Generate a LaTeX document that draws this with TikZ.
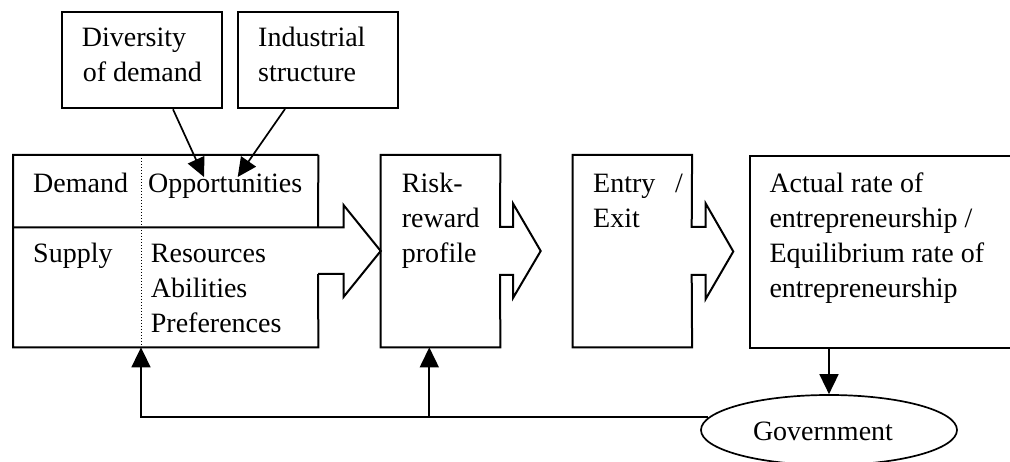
\documentclass[tikz,border=0pt]{standalone}
\usepackage{fontspec}
\setmainfont{Liberation Serif}
\usetikzlibrary{arrows.meta,shapes.geometric}

\begin{document}
\begin{tikzpicture}[x=1pt,y=-1pt,
  blk/.style={rectangle,inner sep=0pt,anchor=north west},
  outline/.style={line width=2pt,line join=miter,miter limit=10},
  conn/.style={line width=1.7pt},
  head/.style={-{Triangle[length=20pt,width=19pt]}},
  lbl/.style={anchor=base west,inner sep=0pt,font=\fontsize{28}{35}\selectfont}]

% canvas
\clip (0,0) rectangle (1010,462);
\fill[white] (0,0) rectangle (1010,462);

% boxes
\node[blk,minimum width=160.3pt,minimum height=96.3pt,draw,line width=2pt] (div) at (60.7,11) {};
\node[blk,minimum width=160pt,minimum height=96pt,draw,line width=2pt] (ind) at (236.7,11) {};
\node[blk,minimum width=305pt,minimum height=192pt] (sd) at (13,155) {};
\node[blk,minimum width=119.3pt,minimum height=192pt] (rr) at (380.7,155) {};
\node[blk,minimum width=119pt,minimum height=192pt] (ee) at (572.7,155) {};
\node[blk,minimum width=266pt,minimum height=192pt,draw,line width=2pt] (ar) at (749,155) {};
\node[ellipse,draw,line width=1.7pt,minimum width=256pt,minimum height=70pt,inner sep=0pt] (gov) at (829,430) {};

% demand/supply box with its block arrow
\draw[outline] (sd.north east) -- (sd.north west) -- (sd.south west) -- (sd.south east) -- (318,274);
\draw[outline] (sd.north east) -- (318,227.5);
\draw[outline] (13,227.5) -- (343.5,227.5) -- (343.5,205) -- (rr.west |- 0,251) -- (343.5,297) -- (343.5,274) -- (318,274);
\draw[line width=1pt,dotted] (141,155) -- (141,347);

% risk-reward box with its block arrow
\draw[outline] (500,227) -- (rr.north east) -- (rr.north west) -- (rr.south west) -- (rr.south east) -- (500,275)
  -- (513,275) -- (513,298) -- (540.7,251) -- (513,203.5) -- (513,227) -- cycle;

% entry/exit box with its block arrow
\draw[outline] (691.7,227) -- (ee.north east) -- (ee.north west) -- (ee.south west) -- (ee.south east) -- (691.7,275)
  -- (705.7,275) -- (705.7,299) -- (733.3,251.5) -- (705.7,203.5) -- (705.7,227) -- cycle;

% labels
\node[lbl] (t1) at (81.7,46.7) {Diversity};
\node[lbl] (t2) at (82.7,81.7) {of demand};
\node[lbl] (t3) at (258,46.7) {Industrial};
\node[lbl] (t4) at (258,81.7) {structure};
\node[lbl] (t5) at (33,193) {Demand};
\node[lbl] (t6) at (148,193) {Opportunities};
\node[lbl] (t7) at (33,262.5) {Supply};
\node[lbl] (t8) at (150.7,262.5) {Resources};
\node[lbl] (t9) at (150.7,297.5) {Abilities};
\node[lbl] (t10) at (150.7,332.5) {Preferences};
\node[lbl] (t11) at (401.7,193) {Risk-};
\node[lbl] (t12) at (401.7,228) {reward};
\node[lbl] (t13) at (401.7,262.5) {profile};
\node[lbl] (t14) at (593,193) {Entry};
\node[lbl] (t15) at (675,193) {/};
\node[lbl] (t16) at (593,228) {Exit};
\node[lbl] (t17) at (769.3,193) {Actual rate of};
\node[lbl] (t18) at (769.3,228) {entrepreneurship /};
\node[lbl] (t19) at (769.3,263) {Equilibrium rate of};
\node[lbl] (t20) at (769.3,298) {entrepreneurship};
\node[lbl,anchor=base] (t21) at (823,440) {Government};

% influences on opportunities
\coordinate (o1) at (204,177);
\coordinate (o2) at (237.7,177);
\draw[conn,-{Triangle[length=19pt,width=18pt]}] ([xshift=112.3pt]div.south west) -- (o1);
\draw[conn,-{Triangle[length=19pt,width=18pt]}] ([xshift=48.3pt]ind.south west) -- (o2);

% outcome to government
\draw[conn,head] (gov.north |- ar.south) -- (gov.north);

% government feedback
\coordinate (fa) at ([xshift=128pt]sd.south west);
\coordinate (fb) at ([xshift=48.6pt]rr.south west);
\draw[conn,head] (gov.174.8) -| (fa);
\draw[conn,head] (gov.174.8 -| fb) -- (fb);
\end{tikzpicture}
\end{document}
